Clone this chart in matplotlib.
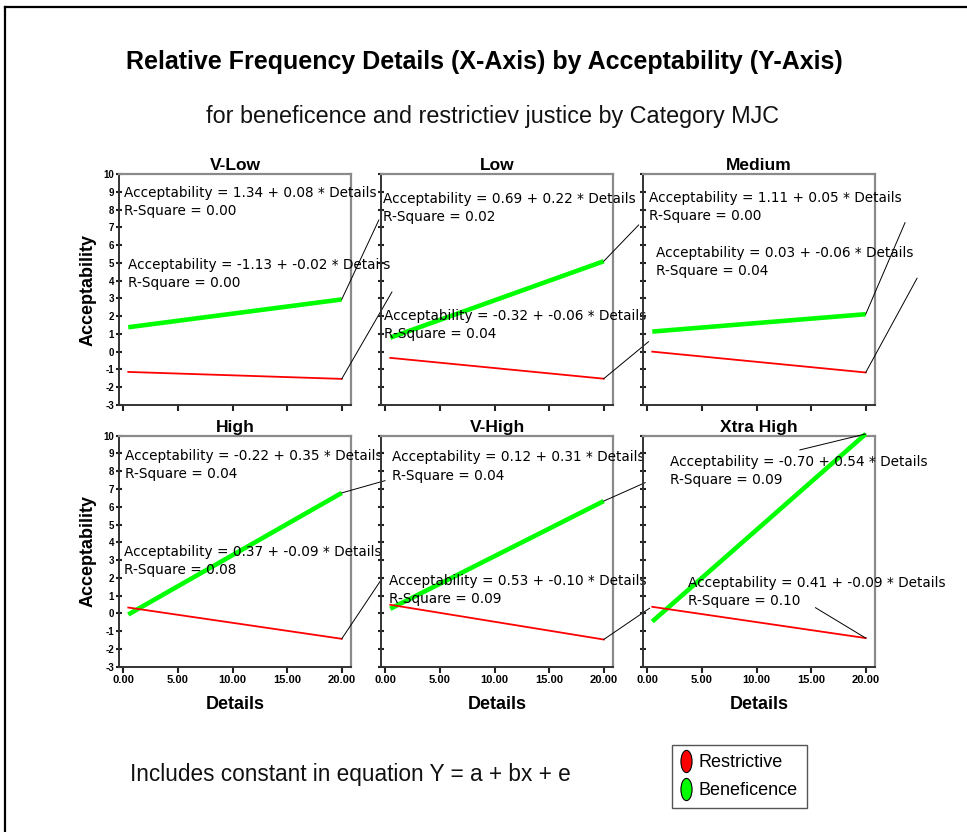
import matplotlib
matplotlib.use("Agg")
import matplotlib.pyplot as plt
import numpy as np
from matplotlib.lines import Line2D
from matplotlib.path import Path
from matplotlib.transforms import Affine2D

# ---------------- data ----------------
categories = ["V-Low", "Low", "Medium", "High", "V-High", "Xtra High"]
series_names = ["Restrictive", "Beneficence"]
restrictive_intercept = [-1.13, -0.32, 0.03, 0.37, 0.53, 0.41]
restrictive_slope = [-0.02, -0.06, -0.06, -0.09, -0.10, -0.09]
restrictive_r2 = [0.00, 0.04, 0.04, 0.08, 0.09, 0.10]
beneficence_intercept = [1.34, 0.69, 1.11, -0.22, 0.12, -0.70]
beneficence_slope = [0.08, 0.22, 0.05, 0.35, 0.31, 0.54]
beneficence_r2 = [0.00, 0.02, 0.00, 0.04, 0.04, 0.09]
details_range = [0.45, 20.0]
x_ticks = [0, 5, 10, 15, 20]
x_tick_labels = ["0.00", "5.00", "10.00", "15.00", "20.00"]
y_ticks = list(range(-3, 11))

title = "Relative Frequency Details (X-Axis) by Acceptability (Y-Axis)"
subtitle = "for beneficence and restrictiev justice by Category MJC"
footnote = "Includes constant in equation Y = a + bx + e"

# ---------------- layout (label placement in data coords) ----------------
text_pos_benef = [(0.05, 8.95), (-0.19, 8.58), (0.17, 8.67), (0.15, 8.87), (0.58, 8.78), (2.07, 8.54)]
text_pos_restr = [(0.40, 4.88), (-0.13, 2.03), (0.79, 5.54), (0.05, 3.47), (0.36, 1.82), (3.75, 1.73)]
leader_benef = [(23.4, 7.41), (23.2, 7.13), (23.6, 7.26), (23.96, 7.47), (23.8, 7.36), (13.97, 9.2)]
leader_restr = [(24.6, 3.36), (24.1, 0.56), (24.7, 4.13), (23.7, 1.97), (24.2, 0.29), (15.4, 0.32)]

W, H = 967, 832
fig = plt.figure(figsize=(W / 100, H / 100), dpi=100)
fig.patch.set_facecolor("white")

SANS = ["Liberation Sans", "DejaVu Sans"]
GREEN = "#00ff00"
RED = "#ff0000"

col_left = [119, 381, 643]
row_bottom = [405, 666.7]
ax_w, ax_h = 232, 231

for i, cat in enumerate(categories):
    r, c = divmod(i, 3)
    ax = fig.add_axes([col_left[c] / W, (H - row_bottom[r]) / H, ax_w / W, ax_h / H])
    ax.set_facecolor("none")
    ax.set_xlim(-0.4, 20.85)
    ax.set_ylim(-3, 10)

    xs = np.array(details_range)
    yb = beneficence_intercept[i] + beneficence_slope[i] * xs
    yr = restrictive_intercept[i] + restrictive_slope[i] * xs
    ax.plot(xs, yb, color=GREEN, lw=3.3, solid_capstyle="butt", clip_on=False, zorder=3)
    ax.plot(xs, yr, color=RED, lw=1.3, clip_on=False, zorder=3)

    # leader lines
    lb = leader_benef[i]
    lr = leader_restr[i]
    ax.plot([xs[-1], lb[0]], [yb[-1], lb[1]], color="black", lw=0.7, clip_on=False, zorder=4)
    ax.plot([xs[-1], lr[0]], [yr[-1], lr[1]], color="black", lw=0.7, clip_on=False, zorder=4)

    # equations
    for (tx, ty), a, b, r2 in [
        (text_pos_benef[i], beneficence_intercept[i], beneficence_slope[i], beneficence_r2[i]),
        (text_pos_restr[i], restrictive_intercept[i], restrictive_slope[i], restrictive_r2[i]),
    ]:
        ax.text(tx, ty, f"Acceptability = {a:.2f} + {b:.2f} * Details", fontsize=9.8,
                family="DejaVu Sans", ha="left", va="center", clip_on=False, zorder=5)
        ax.text(tx, ty - 1.02, f"R-Square = {r2:.2f}", fontsize=9.8,
                family="DejaVu Sans", ha="left", va="center", clip_on=False, zorder=5)

    ax.set_title(cat, fontsize=12.5, fontweight="bold", family=SANS, pad=3)

    ax.set_xticks(x_ticks)
    ax.set_yticks(y_ticks)
    if r == 1:
        ax.set_xticklabels(x_tick_labels, fontsize=8, fontweight="bold", family=SANS)
        ax.set_xlabel("Details", fontsize=13, fontweight="bold", family=SANS, labelpad=8)
    else:
        ax.set_xticklabels([])
    if c == 0:
        ax.set_yticklabels([str(v) for v in y_ticks], fontsize=7, fontweight="bold", family=SANS)
        ax.set_ylabel("Acceptability", fontsize=13, fontweight="bold", family=SANS, labelpad=5)
    else:
        ax.set_yticklabels([])

    ax.tick_params(axis="x", direction="out", length=4, width=1.5, pad=2, color="#222222")
    ax.tick_params(axis="y", direction="inout", length=5, width=1.5, pad=1, color="#222222")
    for s in ["left", "bottom"]:
        ax.spines[s].set_color("#333333")
        ax.spines[s].set_linewidth(1.4)
    for s in ["top", "right"]:
        ax.spines[s].set_color("#8a8a8a")
        ax.spines[s].set_linewidth(1.6)

# titles
fig.text(484 / W, 1 - 61.7 / H, title, fontsize=18, fontweight="bold", family=SANS,
         ha="center", va="center")
fig.text(492.7 / W, 1 - 116.7 / H, subtitle, fontsize=16.8, family=SANS,
         ha="center", va="center", color="#111111")
fig.text(130 / W, 1 - 775 / H, footnote, fontsize=16.3, family=SANS,
         ha="left", va="center", color="#111111")

# legend
capsule = Path.unit_circle().transformed(Affine2D().scale(0.5, 1.0))
handles = [
    Line2D([], [], marker=capsule, markersize=16, markerfacecolor=RED,
           markeredgecolor="black", markeredgewidth=0.8, linestyle="none"),
    Line2D([], [], marker=capsule, markersize=16, markerfacecolor=GREEN,
           markeredgecolor="black", markeredgewidth=0.8, linestyle="none"),
]
leg = fig.legend(handles, series_names, loc="upper left",
                 bbox_to_anchor=(671.7 / W, 1 - 745 / H),
                 prop={"family": SANS, "size": 13}, fancybox=False,
                 handlelength=0.6, handletextpad=0.4, labelspacing=0.62,
                 borderpad=0.5, borderaxespad=0, framealpha=1)
leg.get_frame().set_edgecolor("#555555")
leg.get_frame().set_linewidth(1.0)

# figure border (left and top edges)
fig.add_artist(Line2D([5 / W, 5 / W], [0, 1 - 7 / H], color="black", lw=1.6,
                      transform=fig.transFigure))
fig.add_artist(Line2D([5 / W, 1], [1 - 7 / H, 1 - 7 / H], color="black", lw=1.6,
                      transform=fig.transFigure))

fig.savefig("out.png", dpi=100, facecolor="white")
